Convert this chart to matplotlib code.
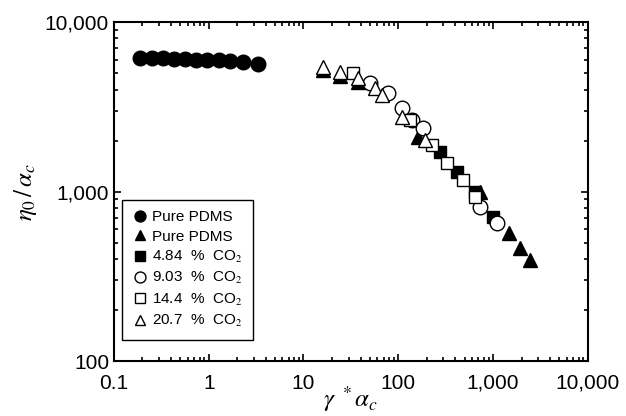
import numpy as np
import matplotlib
matplotlib.use('Agg')
import matplotlib.pyplot as plt
from matplotlib.ticker import FuncFormatter, LogLocator, NullFormatter

plt.rcParams['font.family'] = ['Liberation Sans', 'DejaVu Sans']
plt.rcParams['mathtext.fontset'] = 'stix'

# Pure PDMS (circles, low shear plateau)
pdms_c_x = [0.19, 0.25, 0.33, 0.43, 0.56, 0.74, 0.97, 1.28, 1.68, 2.3, 3.3]
pdms_c_y = [6150, 6100, 6100, 6080, 6050, 6000, 5980, 5950, 5900, 5850, 5650]

# Pure PDMS (filled triangles, high shear)
pdms_t_x = [16, 24.2, 37.5, 161, 726, 1470, 1920, 2440]
pdms_t_y = [5210, 4800, 4430, 2100, 994, 569, 464, 394]

# 4.84 % CO2
co2_484_x = [275, 415, 640, 995]
co2_484_y = [1710, 1300, 1000, 708]

# 9.03 % CO2
co2_903_x = [50, 77.6, 109, 139, 182, 726, 1097]
co2_903_y = [4370, 3810, 3110, 2640, 2370, 811, 652]

# 14.4 % CO2
co2_144_x = [33, 132, 226, 326, 480, 643]
co2_144_y = [5000, 2640, 1880, 1470, 1170, 929]

# 20.7 % CO2
co2_207_x = [16, 24.2, 37.5, 56.6, 68, 109, 191]
co2_207_y = [5430, 5070, 4680, 4080, 3700, 2750, 2010]

fig = plt.figure(figsize=(6.26, 4.16), dpi=100)
ax = fig.add_axes([0.182, 0.132, 0.757, 0.815])

ax.plot(pdms_c_x, pdms_c_y, 'o', ms=10.5, mfc='black', mec='black', label='Pure PDMS')
ax.plot(pdms_t_x, pdms_t_y, '^', ms=10.5, mfc='black', mec='black', label='Pure PDMS')
ax.plot(co2_484_x, co2_484_y, 's', ms=9, mfc='black', mec='black', label='4.84  %  CO$_2$')
ax.plot(co2_903_x, co2_903_y, 'o', ms=10.5, mfc='white', mec='black', mew=1, label='9.03  %  CO$_2$')
ax.plot(co2_144_x, co2_144_y, 's', ms=9, mfc='white', mec='black', mew=1, label='14.4  %  CO$_2$')
ax.plot(co2_207_x, co2_207_y, '^', ms=10.5, mfc='white', mec='black', mew=1, label='20.7  %  CO$_2$')

ax.set_xscale('log')
ax.set_yscale('log')
ax.set_xlim(0.1, 10000)
ax.set_ylim(100, 10000)

fmt = FuncFormatter(lambda v, p: ('{:,.0f}'.format(v) if v >= 1 else '{:g}'.format(v)))
ax.xaxis.set_major_formatter(fmt)
ax.yaxis.set_major_formatter(fmt)
ax.xaxis.set_minor_locator(LogLocator(base=10, subs=np.arange(2, 10)))
ax.yaxis.set_minor_locator(LogLocator(base=10, subs=np.arange(2, 10)))
ax.xaxis.set_minor_formatter(NullFormatter())
ax.yaxis.set_minor_formatter(NullFormatter())

ax.tick_params(which='both', direction='in', top=True, right=True, labelsize=15, width=1.2)
ax.tick_params(which='major', length=5)
ax.tick_params(which='minor', length=3)
ax.tick_params(axis='x', pad=9)
for s in ax.spines.values():
    s.set_linewidth(1.5)

ax.set_xlabel(r'$\gamma\ ^*\alpha_c$', fontsize=18, labelpad=-6)
ax.set_ylabel(r'$\eta_0\,/\,\alpha_c$', fontsize=18, labelpad=4)

leg = ax.legend(loc='lower left', bbox_to_anchor=(0.017, 0.062), borderaxespad=0,
                fontsize=11, markerscale=0.75, handletextpad=0.25, handlelength=1.0,
                labelspacing=0.35, fancybox=False, framealpha=1, borderpad=0.7)
leg.get_frame().set_edgecolor('black')
leg.get_frame().set_linewidth(1.0)

fig.savefig('out.png', dpi=100)
